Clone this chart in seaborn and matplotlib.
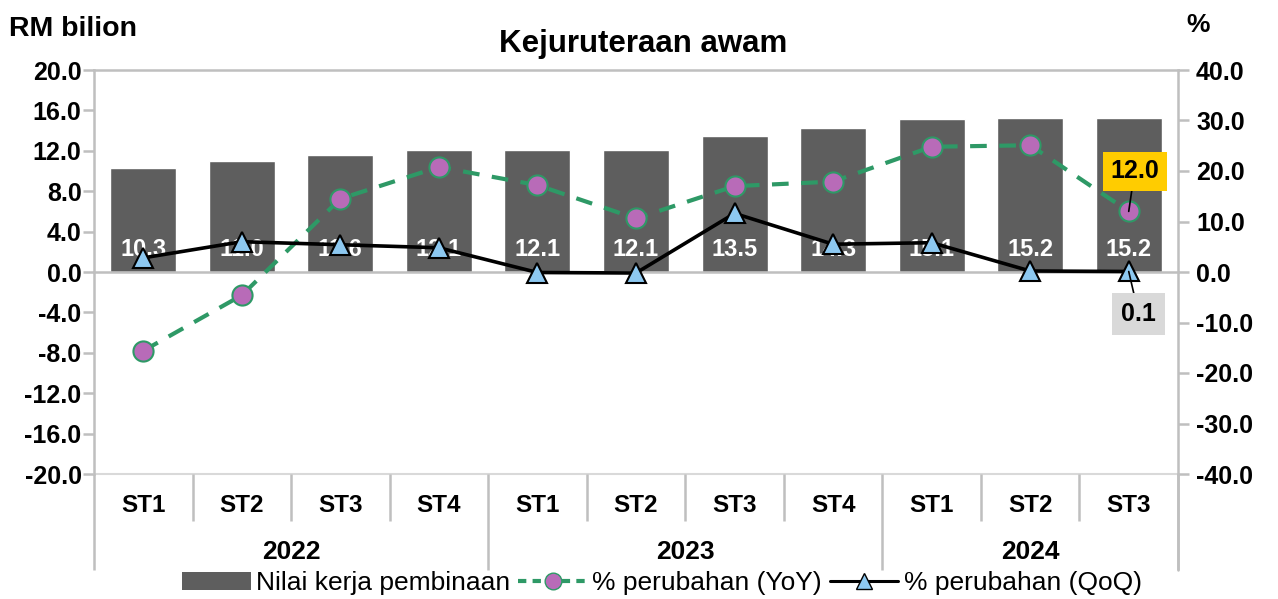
import numpy as np
import pandas as pd
import matplotlib
matplotlib.use("Agg")
import matplotlib.pyplot as plt
import matplotlib.transforms as mtransforms
from matplotlib.patches import Patch
from matplotlib.lines import Line2D
import seaborn as sns

# ---------------- data ----------------
quarters = ["ST1", "ST2", "ST3", "ST4", "ST1", "ST2", "ST3", "ST4", "ST1", "ST2", "ST3"]
quarter_year = ["2022"] * 4 + ["2023"] * 4 + ["2024"] * 3
years = ["2022", "2023", "2024"]
nilai = [10.3, 11.0, 11.6, 12.1, 12.1, 12.1, 13.5, 14.3, 15.1, 15.2, 15.2]
yoy = [-15.6, -4.6, 14.5, 20.8, 17.2, 10.6, 17.0, 17.9, 24.8, 25.1, 12.0]
qoq = [2.8, 6.0, 5.4, 4.8, -0.1, -0.2, 11.6, 5.5, 5.8, 0.2, 0.1]
left_ticks = [-20, -16, -12, -8, -4, 0, 4, 8, 12, 16, 20]
right_ticks = [-40, -30, -20, -10, 0, 10, 20, 30, 40]
title = "Kejuruteraan awam"
legend_labels = ["Nilai kerja pembinaan", "% perubahan (YoY)", "% perubahan (QoQ)"]

# ---------------- style ----------------
sns.set_style("white")
plt.rcParams["font.family"] = ["Liberation Sans", "DejaVu Sans"]
for k in ["text.color", "axes.labelcolor", "xtick.labelcolor", "ytick.labelcolor"]:
    plt.rcParams[k] = "black"

BAR = "#5E5E5E"
GREEN = "#2E9966"
PURPLE = "#B86BB8"
BLUE = "#8DC8F0"
GREY = "#BFBFBF"
W, H = 1278, 599
TICK_FS = 18

df = pd.DataFrame({
    "key": [f"{y} {q}" for y, q in zip(quarter_year, quarters)],
    "pos": np.arange(len(quarters)),
    "nilai": nilai, "yoy": yoy, "qoq": qoq,
})

fig = plt.figure(figsize=(W / 100, H / 100), dpi=100)
ax = fig.add_axes([94 / W, 125 / H, 1084 / W, 404 / H])

sns.barplot(data=df, x="key", y="nilai", color=BAR, saturation=1, width=0.67,
            ax=ax, zorder=2)
ax.set_xlim(-0.5, len(quarters) - 0.5)
ax.set_ylim(-20, 20)
ax.set_yticks(left_ticks)
ax.set_yticklabels([f"{v:.1f}" for v in left_ticks], fontsize=TICK_FS,
                   fontweight="bold", color="black")
ax.set_xticks(np.arange(0.5, len(quarters) - 1, 1))
ax.set_xticklabels([])
ax.set_xlabel("")
ax.set_ylabel("")
ax.tick_params(axis="y", direction="out", length=8, width=1.8, color=GREY, pad=1)
ax.tick_params(axis="x", direction="out", length=6, width=1.8, color=GREY)
for s in ["left", "top", "bottom"]:
    ax.spines[s].set_color(GREY)
    ax.spines[s].set_linewidth(1.8)
ax.spines["right"].set_visible(False)
ax.spines["bottom"].set_position(("data", 0))
ax.axhline(-20, color="#D9D9D9", lw=1.5, clip_on=False, zorder=1)

# bar value labels
for i, v in enumerate(nilai):
    ax.text(i, 2.2, f"{v:.1f}", ha="center", va="center", color="white",
            fontsize=17, fontweight="bold", zorder=3)

# category axis (quarters + years)
trans = mtransforms.blended_transform_factory(ax.transData, ax.transAxes)
year_bounds = {-0.5, 3.5, 7.5, len(quarters) - 0.5}
for b in np.arange(-0.5, len(quarters), 1.0):
    depth = -0.238 if b in year_bounds else -0.117
    ax.plot([b, b], [0, depth], transform=trans, color=GREY, lw=1.8,
            clip_on=False, solid_capstyle="butt")
for i, q in enumerate(quarters):
    ax.text(i, -0.078, q, transform=trans, ha="center", va="center",
            fontsize=17.5, fontweight="bold", color="black")
for y in years:
    idx = [i for i, qy in enumerate(quarter_year) if qy == y]
    ax.text(np.mean(idx), -0.193, y, transform=trans, ha="center", va="center",
            fontsize=19, fontweight="bold", color="black")

# secondary axis with lines
ax2 = ax.twinx()
sns.lineplot(data=df, x="pos", y="yoy", ax=ax2, color=GREEN, lw=3,
             linestyle=(0, (4, 3)), marker="o", markersize=14.5,
             markerfacecolor=PURPLE, markeredgecolor=GREEN, markeredgewidth=1.5,
             zorder=4)
sns.lineplot(data=df, x="pos", y="qoq", ax=ax2, color="black", lw=2.6,
             marker="^", markersize=14.5, markerfacecolor=BLUE,
             markeredgecolor="black", markeredgewidth=1.5, zorder=5)
ax2.set_ylim(-40, 40)
ax2.set_yticks(right_ticks)
ax2.set_yticklabels([f"{v:.1f}" for v in right_ticks], fontsize=TICK_FS,
                    fontweight="bold", color="black")
ax2.set_xlim(-0.5, len(quarters) - 0.5)
ax2.set_xlabel("")
ax2.set_ylabel("")
ax2.tick_params(axis="y", direction="out", length=8, width=1.8, color=GREY, pad=5)
ax2.tick_params(axis="x", bottom=False, labelbottom=False)
for s in ["left", "top", "bottom"]:
    ax2.spines[s].set_visible(False)
ax2.spines["right"].set_color(GREY)
ax2.spines["right"].set_linewidth(1.8)
ax2.plot([1, 1], [0, -0.238], transform=ax2.transAxes, color=GREY, lw=1.8,
         clip_on=False)

# callouts for last values
n = len(quarters) - 1
ax2.annotate(f"{yoy[-1]:.1f}", xy=(n, yoy[-1]), xytext=(n + 0.06, 20.0),
             ha="center", va="center", fontsize=18, fontweight="bold", color="black",
             bbox=dict(boxstyle="square,pad=0.3", fc="#FFCC00", ec="none"),
             arrowprops=dict(arrowstyle="-", color="black", lw=1.2,
                             shrinkA=0, shrinkB=0), zorder=6)
ax2.annotate(f"{qoq[-1]:.1f}", xy=(n, qoq[-1]), xytext=(n + 0.1, -8.3),
             ha="center", va="center", fontsize=18, fontweight="bold", color="black",
             bbox=dict(boxstyle="square,pad=0.35", fc="#D9D9D9", ec="none"),
             arrowprops=dict(arrowstyle="-", color="black", lw=1.2,
                             shrinkA=0, shrinkB=0), zorder=6)

# titles
fig.text(643.5 / W, 1 - 52 / H, title, ha="center", va="baseline",
         fontsize=22.5, fontweight="bold", color="black")
fig.text(9 / W, 1 - 36 / H, "RM bilion", ha="left", va="baseline",
         fontsize=20.5, fontweight="bold", color="black")
fig.text(1186 / W, 1 - 32 / H, "%", ha="left", va="baseline",
         fontsize=19, fontweight="bold", color="black")

# legend
handles = [
    Patch(facecolor=BAR, edgecolor="none"),
    Line2D([], [], color=GREEN, lw=3, linestyle=(0, (2, 1.5)), marker="o",
           markersize=12, markerfacecolor=PURPLE, markeredgecolor=GREEN),
    Line2D([], [], color="black", lw=2.2, marker="^", markersize=12,
           markerfacecolor=BLUE, markeredgecolor="black"),
]
leg = fig.legend(handles, legend_labels, loc="center", bbox_to_anchor=(662 / W, 16 / H),
                 ncol=3, frameon=False, fontsize=19, handlelength=2.6, handleheight=0.7,
                 handletextpad=0.2, columnspacing=0.3, borderaxespad=0, borderpad=0)
for t in leg.get_texts():
    t.set_color("black")

fig.savefig("out.png", dpi=100)
